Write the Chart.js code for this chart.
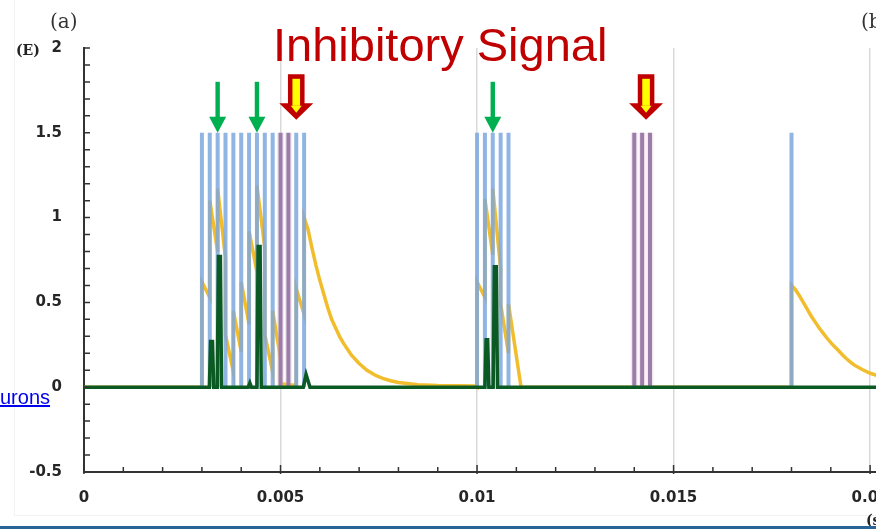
<!DOCTYPE html>
<html lang="en">
<head>
<meta charset="UTF-8">
<title>Inhibitory Signal</title>
<script src="https://cdn.jsdelivr.net/npm/chart.js"></script>
<style>
    body { margin: 0; background: #fff; width: 876px; height: 529px; overflow: hidden; position: relative; }
    #chartBox { position: absolute; left: 0; top: 0; width: 876px; height: 529px; }
    .lbl { position: absolute; line-height: 1; white-space: nowrap; }
    #title { left: 273px; top: 17px; font: 47px "Liberation Sans", Arial, sans-serif; color: #c00000; }
    #panelA { left: 50px; top: 9px; font: 20px "DejaVu Serif", serif; color: #333; }
    #panelB { left: 861px; top: 9px; font: 20px "DejaVu Serif", serif; color: #333; }
    #unitE { left: 16px; top: 42px; font: bold 14px "DejaVu Serif", serif; color: #222; }
    #unitS { left: 866px; top: 512px; font: bold 14px "DejaVu Serif", serif; color: #222; }
    #link { left: 0; top: 386px; font: 20px "Liberation Sans", Arial, sans-serif; color: #0000ee; text-decoration: underline; }
    #frameV { position: absolute; left: 14px; top: 0; width: 1px; height: 515px; background: #f2f2f2; }
    #frameH { position: absolute; left: 14px; top: 515px; width: 862px; height: 1px; background: #f2f2f2; }
    #bottomBar { position: absolute; left: 0; top: 526px; width: 876px; height: 3px; background: #2a6496; }
</style>
</head>
<body>
<div id="frameV"></div>
<div id="frameH"></div>
<div id="chartBox"><canvas id="myChart"></canvas></div>
<div class="lbl" id="title">Inhibitory Signal</div>
<div class="lbl" id="panelA">(a)</div>
<div class="lbl" id="panelB">(b)</div>
<div class="lbl" id="unitE">(E)</div>
<div class="lbl" id="unitS">(s)</div>
<div class="lbl" id="link">urons</div>
<div id="bottomBar"></div>

<script>
    // excitatory input spikes (s) and inhibitory spikes (s)
    const spikeTimes = [0.003, 0.0032, 0.0034, 0.0036, 0.0038, 0.004, 0.0042, 0.0044, 0.0046, 0.0048,
                        0.0054, 0.0056, 0.01, 0.0102, 0.0104, 0.0106, 0.0108, 0.018];
    const inhibTimes = [0.005, 0.0052, 0.014, 0.0142, 0.0144];
    const spikeLevel = 1.5;

    // membrane trace (yellow)
    const yellowT = [0, 0.003, 0.003, 0.0032, 0.0032, 0.0034, 0.0034, 0.0036, 0.0036, 0.0038, 0.0038, 0.004,
                     0.004, 0.0042, 0.0042, 0.0044, 0.0044, 0.0046, 0.0046, 0.0048, 0.0048, 0.005, 0.005, 0.0054,
                     0.0054, 0.0056, 0.0056, 0.0057, 0.0058, 0.0059, 0.006, 0.0061, 0.0062, 0.0063, 0.0064,
                     0.0065, 0.0066, 0.0068, 0.007, 0.0072, 0.0074, 0.0076, 0.0078, 0.008, 0.0085, 0.009,
                     0.0095, 0.00995, 0.01, 0.01, 0.0102, 0.0102, 0.0104, 0.0104, 0.0106,
                     0.0106, 0.0108, 0.0108, 0.01112, 0.018, 0.018, 0.0181, 0.0182, 0.0183, 0.0184, 0.0185,
                     0.0186, 0.0187, 0.0188, 0.0189, 0.019, 0.0191, 0.0192, 0.0193, 0.0194, 0.0195, 0.0196,
                     0.0198, 0.02, 0.0202];
    const yellowV = [0, 0, 0.62, 0.53, 1.1, 0.8, 1.17, 0.76, 0.31, 0.09, 0.45, 0.21,
                     0.62, 0.37, 0.92, 0.68, 1.19, 0.82, 0.31, 0.09, 0.45, 0.17, 0.02, 0.01,
                     0.58, 0.43, 1.0, 0.93, 0.82, 0.72, 0.63, 0.55, 0.47, 0.4, 0.35,
                     0.3, 0.26, 0.19, 0.14, 0.1, 0.072, 0.052, 0.038, 0.028, 0.015, 0.01,
                     0.008, 0.007, 0, 0.62, 0.53, 1.11, 0.78, 1.17, 0.7,
                     0.49, 0.2, 0.49, 0, 0, 0.6, 0.575, 0.54, 0.5, 0.46, 0.42,
                     0.385, 0.35, 0.32, 0.29, 0.263, 0.238, 0.215, 0.19, 0.168, 0.148, 0.13,
                     0.104, 0.082, 0.068];

    // output trace (dark green)
    const greenT = [0, 0.00319, 0.00322, 0.00327, 0.0033, 0.00339, 0.00342, 0.00347, 0.0035,
                    0.00418, 0.00422, 0.00426, 0.0044, 0.00443, 0.00448, 0.00451, 0.00558, 0.00565, 0.00575,
                    0.0102, 0.01023, 0.01027, 0.0103, 0.01041, 0.01044, 0.01049, 0.01052, 0.0202];
    const greenV = [0, 0, 0.27, 0.27, 0, 0, 0.77, 0.77, 0,
                    0, 0.025, 0, 0, 0.83, 0.83, 0, 0, 0.075, 0,
                    0, 0.28, 0.28, 0, 0, 0.71, 0.71, 0, 0];

    // arrow annotations (s)
    const greenArrows = [0.0034, 0.0044, 0.0104];
    const redArrows = [0.0054, 0.0143];

    function spikeLines(times) {
        const pts = [];
        times.forEach(t => {
            pts.push({x: t, y: 0}, {x: t, y: spikeLevel}, {x: t, y: null});
        });
        return pts;
    }
    const toPoints = (ts, vs) => ts.map((t, i) => ({x: t, y: vs[i]}));

    // tick marks inside the axes
    const innerTicks = {
        id: 'innerTicks',
        afterDraw(chart) {
            const {ctx, chartArea: a, scales: {x, y}} = chart;
            ctx.save();
            ctx.strokeStyle = '#333';
            ctx.lineWidth = 1.5;
            ctx.beginPath();
            for (let k = -5; k <= 20; k++) {
                const py = y.getPixelForValue(k / 10);
                ctx.moveTo(a.left, py);
                ctx.lineTo(a.left + 6, py);
            }
            for (let k = 0; k <= 20; k++) {
                const px = x.getPixelForValue(k / 1000);
                const big = k % 5 === 0;
                ctx.moveTo(px, a.bottom + (big ? 2 : 0));
                ctx.lineTo(px, a.bottom - (big ? 7 : 5));
            }
            ctx.stroke();
            ctx.restore();
        }
    };

    const arrows = {
        id: 'arrows',
        afterDatasetsDraw(chart) {
            const {ctx, scales: {x, y}} = chart;
            const top = y.getPixelForValue(spikeLevel);
            ctx.save();
            ctx.fillStyle = '#00b050';
            greenArrows.forEach(t => {
                const px = x.getPixelForValue(t);
                ctx.fillRect(px - 2.2, top - 51, 4.4, 36);
                ctx.beginPath();
                ctx.moveTo(px - 8.5, top - 16);
                ctx.lineTo(px + 8.5, top - 16);
                ctx.lineTo(px, top);
                ctx.closePath();
                ctx.fill();
            });
            redArrows.forEach(t => {
                const px = x.getPixelForValue(t);
                ctx.fillStyle = '#c00000';
                ctx.beginPath();
                ctx.moveTo(px - 8.3, top - 58.5);
                ctx.lineTo(px + 8.3, top - 58.5);
                ctx.lineTo(px + 8.3, top - 29.5);
                ctx.lineTo(px + 17, top - 29.5);
                ctx.lineTo(px, top - 13);
                ctx.lineTo(px - 17, top - 29.5);
                ctx.lineTo(px - 8.3, top - 29.5);
                ctx.closePath();
                ctx.fill();
                ctx.fillStyle = '#ffff00';
                ctx.fillRect(px - 3.8, top - 54, 7.6, 27);
                ctx.beginPath();
                ctx.moveTo(px - 5.5, top - 27);
                ctx.lineTo(px + 5.5, top - 27);
                ctx.lineTo(px, top - 20);
                ctx.closePath();
                ctx.fill();
            });
            ctx.restore();
        }
    };

    const tickFont = {family: 'DejaVu Sans', weight: 'bold', size: 15};

    const ctx = document.getElementById('myChart').getContext('2d');
    new Chart(ctx, {
        type: 'scatter',
        data: {
            datasets: [
                {label: 'Output', data: toPoints(greenT, greenV), borderColor: '#0b5a24', borderWidth: 3.5, showLine: true},
                {label: 'Inhibitory', data: spikeLines(inhibTimes), borderColor: '#9a7dab', borderWidth: 4, showLine: true},
                {label: 'Inhibitory halo', data: spikeLines(inhibTimes), borderColor: 'rgba(232,185,212,0.35)', borderWidth: 7, showLine: true},
                {label: 'Input spikes', data: spikeLines(spikeTimes), borderColor: 'rgba(125,168,222,0.85)', borderWidth: 4, showLine: true},
                {label: 'Potential', data: toPoints(yellowT, yellowV), borderColor: '#f2bd2c', borderWidth: 3.5, showLine: true}
            ]
        },
        options: {
            responsive: true,
            maintainAspectRatio: false,
            animation: false,
            events: [],
            layout: {padding: {top: 48, right: 0, bottom: 0, left: 0}},
            elements: {point: {radius: 0}, line: {tension: 0}},
            plugins: {legend: {display: false}, tooltip: {enabled: false}},
            scales: {
                x: {
                    type: 'linear',
                    min: 0,
                    max: 0.02015,
                    ticks: {
                        stepSize: 0.005,
                        includeBounds: false,
                        autoSkip: false,
                        maxRotation: 0,
                        padding: 17,
                        color: '#262626',
                        font: tickFont,
                        callback: v => String(Number(v.toFixed(4)))
                    },
                    grid: {
                        drawTicks: false,
                        lineWidth: 1.5,
                        color: c => (c.tick && c.tick.value > 0) ? '#d9d9d9' : 'rgba(0,0,0,0)'
                    },
                    border: {color: '#333', width: 2},
                    afterFit: s => { s.height = 57; s.paddingLeft = 0; s.paddingRight = 0; }
                },
                y: {
                    min: -0.5,
                    max: 2,
                    ticks: {
                        stepSize: 0.5,
                        padding: 22,
                        color: '#262626',
                        font: tickFont,
                        callback: v => String(Number(v.toFixed(2)))
                    },
                    grid: {display: false, drawTicks: false},
                    border: {color: '#333', width: 2},
                    afterFit: s => { s.width = 84; s.paddingTop = 0; s.paddingBottom = 0; }
                }
            }
        },
        plugins: [innerTicks, arrows]
    });
</script>
</body>
</html>
